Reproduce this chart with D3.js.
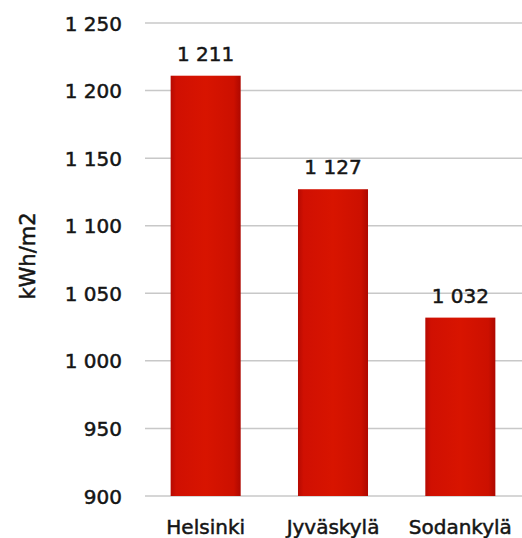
<!DOCTYPE html>
<html>
<head>
<meta charset="utf-8">
<script src="https://cdn.jsdelivr.net/npm/d3@7"></script>
<style>
  html, body { margin: 0; padding: 0; background: #fff; }
  svg { display: block; }
  text { font-family: "DejaVu Sans", sans-serif; fill: #151515; stroke: #151515; stroke-width: 0.5px; }
</style>
</head>
<body>
<svg id="chart" width="522" height="538"></svg>
<script>
const categories = ["Helsinki", "Jyväskylä", "Sodankylä"];
const values = [1211, 1127, 1032];
const valueLabels = ["1 211", "1 127", "1 032"];
const yTicks = [900, 950, 1000, 1050, 1100, 1150, 1200, 1250];
const yTickLabels = ["900", "950", "1 000", "1 050", "1 100", "1 150", "1 200", "1 250"];
const yTitle = "kWh/m2";

const svg = d3.select("#chart");
const W = 522, H = 538;

const y = d3.scaleLinear().domain([900, 1250]).range([496, 23]);
const x = d3.scaleBand().domain(categories).range([142, 524]).paddingInner(0.45).paddingOuter(0.225);

const defs = svg.append("defs");
const grad = defs.append("linearGradient").attr("id", "barGrad")
  .attr("x1", "0").attr("x2", "1").attr("y1", "0").attr("y2", "0");
grad.append("stop").attr("offset", "0").attr("stop-color", "#b60a02");
grad.append("stop").attr("offset", "0.08").attr("stop-color", "#d01002");
grad.append("stop").attr("offset", "0.5").attr("stop-color", "#d81400");
grad.append("stop").attr("offset", "0.9").attr("stop-color", "#cc1000");
grad.append("stop").attr("offset", "1").attr("stop-color", "#ae0800");

// gridlines
svg.append("g").selectAll("line").data(yTicks).join("line")
  .attr("x1", 145).attr("x2", W)
  .attr("y1", d => y(d)).attr("y2", d => y(d))
  .attr("stroke", "#c8c8c8").attr("stroke-width", 1.5);

// y tick labels
const yAxis = d3.axisLeft(y).tickValues(yTicks)
  .tickFormat((d, i) => yTickLabels[i]).tickSize(0).tickPadding(0);
const ga = svg.append("g").attr("transform", "translate(122,0)").call(yAxis);
ga.select(".domain").remove();
ga.selectAll("text").attr("font-size", 20).attr("font-family", "DejaVu Sans, sans-serif")
  .attr("fill", "#151515").attr("dy", "0.35em");

// bars
svg.append("g").selectAll("rect").data(values).join("rect")
  .attr("x", (d, i) => x(categories[i]))
  .attr("width", x.bandwidth())
  .attr("y", d => y(d))
  .attr("height", d => y(900) - y(d))
  .attr("fill", "url(#barGrad)");

// value labels
svg.append("g").selectAll("text").data(values).join("text")
  .attr("x", (d, i) => x(categories[i]) + x.bandwidth() / 2)
  .attr("y", d => y(d) - 15)
  .attr("text-anchor", "middle")
  .attr("font-size", 20)
  .text((d, i) => valueLabels[i]);

// category labels
const xAxis = d3.axisBottom(x).tickSize(0).tickPadding(0);
const gx = svg.append("g").attr("transform", "translate(0,496)").call(xAxis);
gx.select(".domain").remove();
gx.selectAll("text").attr("font-size", 20).attr("font-family", "DejaVu Sans, sans-serif")
  .attr("fill", "#151515").attr("dy", null).attr("y", 38);

// y title
svg.append("text")
  .attr("transform", `translate(35,${256}) rotate(-90)`)
  .attr("text-anchor", "middle")
  .attr("font-size", 21)
  .text(yTitle);
</script>
</body>
</html>
